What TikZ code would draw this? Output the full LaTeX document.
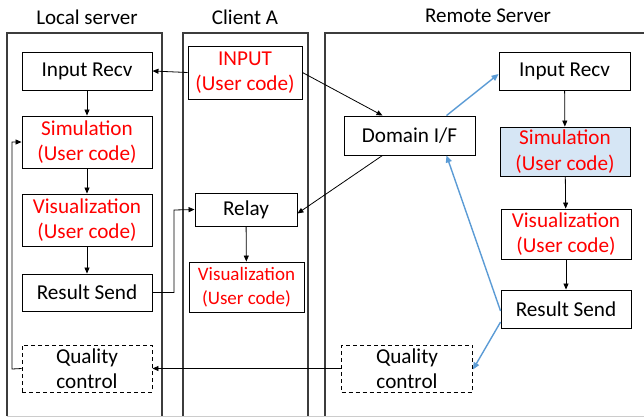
\documentclass[tikz,border=0pt]{standalone}
\usepackage{fontspec}
\setmainfont{Carlito}
\usetikzlibrary{arrows.meta}
\definecolor{codered}{RGB}{255,0,0}
\definecolor{linkblue}{RGB}{91,155,213}
\definecolor{simfill}{RGB}{214,230,245}
\definecolor{framegray}{RGB}{60,60,60}
\tikzset{
  box/.style={draw=black, line width=0.9pt, inner sep=0pt, align=center,
    font=\fontsize{21.2}{25.5}\selectfont},
  usercode/.style={box, text=codered},
  qcbox/.style={box, dashed, dash pattern=on 4pt off 3pt},
  frame/.style={draw=framegray, line width=1.2pt},
  title/.style={font=\fontsize{21}{24}\selectfont, inner sep=0pt},
  link/.style={-{Triangle[length=6pt,width=5pt]}, line width=0.8pt, black},
  bluelink/.style={-{Triangle[length=7pt,width=6pt]}, line width=1.4pt, linkblue},
}
\begin{document}
\begin{tikzpicture}[x=1pt,y=-1pt]
\useasboundingbox (0,0) rectangle (644,418);
\begin{scope}
\clip (0,0) rectangle (644,418);

% column frames
\draw[frame] (7,416) -- (7,33) -- (162,33) -- (162,416);
\draw[frame] (183,416) -- (183,33) -- (308,33) -- (308,416);
\draw[frame] (325,416) -- (325,33) -- (650,33);
\draw[draw=black!20, line width=0.8pt] (7,416.5) -- (644,416.5);

% column titles
\node[title] (tlocal) at (87,17) {Local server};
\node[title] (tclient) at (245,17) {Client A};
\node[title] (tremote) at (488,16) {Remote Server};

% local server
\node[box, minimum width=130pt, minimum height=38pt] (lir) at (87,71) {Input Recv};
\node[usercode, minimum width=130pt, minimum height=52pt] (lsim) at (87,142) {Simulation\\(User code)};
\node[usercode, minimum width=130pt, minimum height=52pt] (lvis) at (87,220) {Visualization\\(User code)};
\node[box, minimum width=130pt, minimum height=37pt] (lres) at (87,292.5) {Result Send};
\node[qcbox, minimum width=130pt, minimum height=47pt] (lqc) at (87,368.5) {Quality\\control};

% client
\node[usercode, minimum width=114pt, minimum height=53pt] (cin) at (245,72.5) {INPUT\\(User code)};
\node[box, minimum width=102pt, minimum height=33pt] (crel) at (246,209.5) {Relay};
\node[usercode, minimum width=115pt, minimum height=50pt, font=\fontsize{19}{23.5}\selectfont] (cvis) at (246.5,287) {Visualization\\(User code)};

% remote server
\node[box, minimum width=131pt, minimum height=39pt] (dif) at (409.5,135.5) {Domain I/F};
\node[box, minimum width=131pt, minimum height=38pt] (rir) at (564.5,71) {Input Recv};
\node[usercode, fill=simfill, minimum width=130pt, minimum height=49pt] (rsim) at (565,151.5) {Simulation\\(User code)};
\node[usercode, minimum width=130pt, minimum height=50pt] (rvis) at (566,234) {Visualization\\(User code)};
\node[box, minimum width=130pt, minimum height=38pt] (rres) at (566,309) {Result Send};
\node[qcbox, minimum width=131pt, minimum height=47pt] (rqc) at (407,368.5) {Quality\\control};

% local pipeline
\draw[link] (lir) -- (lsim);
\draw[link] (lsim) -- (lvis);
\draw[link] (lvis) -- (lres);
\draw[link] (cin.west) -- (lir.east);
\coordinate (relayin) at (174,210);
\draw[link] (lres.east) -- (lres.east -| relayin) -- (relayin) -- (crel.west);
\coordinate (qcloop) at (12,369);
\draw[link] (lqc.west) -- (qcloop) -- (qcloop |- lsim.west) -- (lsim.west);

% client links
\draw[link] (crel) -- (cvis);
\draw[link] (cin.east) -- ([xshift=-27pt]dif.north);
\draw[link] ([xshift=-27pt]dif.south) -- ([yshift=-4pt]crel.east);

% remote pipeline
\draw[link] (rir) -- (rsim);
\draw[link] (rsim) -- (rvis);
\draw[link] (rvis) -- (rres);
\draw[link] (rqc.west) -- (lqc.east);

% blue links
\draw[bluelink] ([xshift=37pt]dif.north) -- ([yshift=-3pt]rir.west);
\draw[bluelink] ([yshift=-2pt]rres.west) -- ([xshift=37pt]dif.south);
\draw[bluelink] ([yshift=-13pt]rres.west) -- ([yshift=-1pt]rqc.east);
\end{scope}
\end{tikzpicture}
\end{document}
